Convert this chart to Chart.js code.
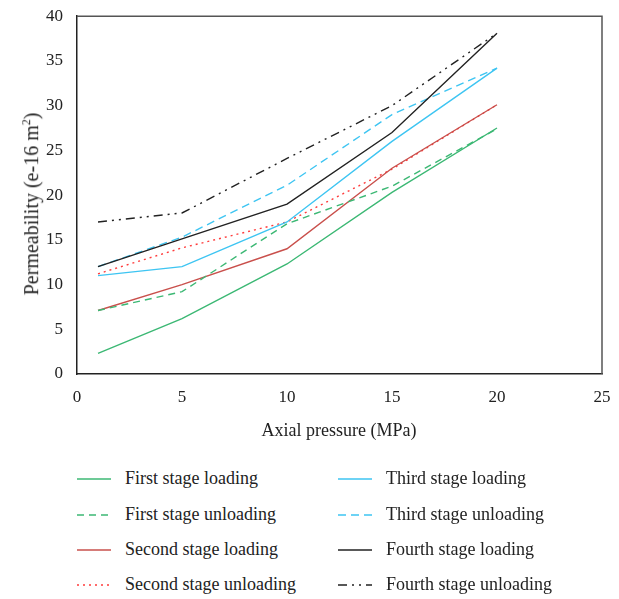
<!DOCTYPE html>
<html>
<head>
<meta charset="utf-8">
<script src="https://cdn.jsdelivr.net/npm/chart.js@4.4.1/dist/chart.umd.min.js"></script>
<style>
  html, body { margin: 0; padding: 0; background: #fff; }
  body { width: 619px; height: 599px; position: relative; overflow: hidden; font-family: "Liberation Serif", "DejaVu Serif", serif; color: #222; }
  #wrap { position: absolute; left: 0; top: 0; width: 619px; height: 445px; }
  #ytitle { position: absolute; left: 31px; top: 204px; transform: translate(-50%, -50%) rotate(-90deg); white-space: nowrap; font-size: 20px; }
  #xtitle { position: absolute; left: 339px; top: 430px; transform: translate(-50%, -50%); white-space: nowrap; font-size: 18px; }
  .leg { position: absolute; font-size: 18px; white-space: nowrap; display: flex; align-items: center; }
  .leg svg { width: 34px; height: 6px; margin-right: 14px; }
</style>
</head>
<body>
<div id="wrap"><canvas id="c" width="619" height="445"></canvas></div>
<div id="ytitle">Permeability (e-16 m<sup style="font-size:12px">2</sup>)</div>
<div id="xtitle">Axial pressure (MPa)</div>
<div id="legend"></div>
<script>
// ---- data ----
const pressure = [1, 5, 10, 15, 20];
const firstLoading    = [2.3, 6.2, 12.3, 20.3, 27.5];
const firstUnloading  = [7.1, 9.2, 16.8, 21.0, 27.4];
const secondLoading   = [7.1, 10.0, 14.0, 23.0, 30.1];
const secondUnloading = [11.2, 14.1, 17.0, 22.9, 30.1];
const thirdLoading    = [11.0, 12.0, 17.0, 26.0, 34.2];
const thirdUnloading  = [12.0, 15.3, 21.1, 29.0, 34.2];
const fourthLoading   = [12.0, 15.1, 19.0, 27.0, 38.1];
const fourthUnloading = [17.0, 18.0, 24.1, 30.0, 38.1];
const xTicks = [0, 5, 10, 15, 20, 25];
const yTicks = [0, 5, 10, 15, 20, 25, 30, 35, 40];
const seriesNames = ["First stage loading", "First stage unloading", "Second stage loading", "Second stage unloading",
                     "Third stage loading", "Third stage unloading", "Fourth stage loading", "Fourth stage unloading"];

const GREEN = "#3cb874", RED = "#c9504c", RED2 = "#ff3b3b", CYAN = "#3ec5f2", BLACK = "#222222";
const styles = [
  { c: GREEN, d: [] },
  { c: GREEN, d: [7, 5] },
  { c: RED, d: [] },
  { c: RED2, d: [2, 4] },
  { c: CYAN, d: [] },
  { c: CYAN, d: [8, 5] },
  { c: BLACK, d: [] },
  { c: BLACK, d: [9, 5, 2, 5, 2, 5] }
];
const values = [firstLoading, firstUnloading, secondLoading, secondUnloading, thirdLoading, thirdUnloading, fourthLoading, fourthUnloading];
const drawOrder = [2, 2, 2, 2, 1, 3, 0, 1];

const datasets = values.map((v, i) => ({
  label: seriesNames[i],
  data: pressure.map((x, j) => ({ x: x, y: v[j] })),
  borderColor: styles[i].c,
  borderDash: styles[i].d,
  borderWidth: 1.4,
  pointRadius: 0,
  fill: false,
  tension: 0,
  order: drawOrder[i]
}));

const frame = {
  id: "frame",
  afterDraw(chart) {
    const a = chart.chartArea, ctx = chart.ctx;
    ctx.save();
    ctx.strokeStyle = "#555";
    ctx.lineWidth = 1.5;
    ctx.beginPath();
    ctx.moveTo(a.left, a.top);
    ctx.lineTo(a.right, a.top);
    ctx.lineTo(a.right, a.bottom);
    ctx.stroke();
    ctx.restore();
  }
};

const tickFont = { family: "Liberation Serif", size: 17 };
new Chart(document.getElementById("c"), {
  type: "line",
  data: { datasets },
  plugins: [frame],
  options: {
    responsive: false,
    animation: false,
    layout: { autoPadding: false, padding: { left: 0, right: 17, top: 12, bottom: 0 } },
    plugins: { legend: { display: false }, tooltip: { enabled: false } },
    scales: {
      x: {
        type: "linear", min: 0, max: 25,
        afterBuildTicks: s => { s.ticks = xTicks.map(v => ({ value: v })); },
        afterFit: s => { s.height = 71; },
        ticks: { font: tickFont, color: "#222", padding: 5 },
        grid: { display: false },
        border: { color: "#222", width: 1.5 }
      },
      y: {
        type: "linear", min: 0, max: 40,
        afterBuildTicks: s => { s.ticks = yTicks.map(v => ({ value: v })); },
        afterFit: s => { s.width = 77; },
        ticks: { font: tickFont, color: "#222", padding: 6 },
        grid: { display: false },
        border: { color: "#222", width: 1.5 }
      }
    }
  }
});

// ---- legend (HTML) ----
const legendPos = [
  [77, 480], [77, 516], [77, 551], [77, 586],
  [338, 480], [338, 516], [338, 551], [338, 586]
];
const leg = document.getElementById("legend");
seriesNames.forEach((name, i) => {
  const d = document.createElement("div");
  d.className = "leg";
  d.style.left = legendPos[i][0] + "px";
  d.style.top = (legendPos[i][1] - 12) + "px";
  const dash = styles[i].d.length ? styles[i].d.join(",") : "none";
  d.innerHTML = '<svg viewBox="0 0 34 6"><line x1="0" y1="3" x2="34" y2="3" stroke="' + styles[i].c +
    '" stroke-width="1.6" stroke-dasharray="' + dash + '"/></svg><span>' + name + '</span>';
  leg.appendChild(d);
});
</script>
</body>
</html>
